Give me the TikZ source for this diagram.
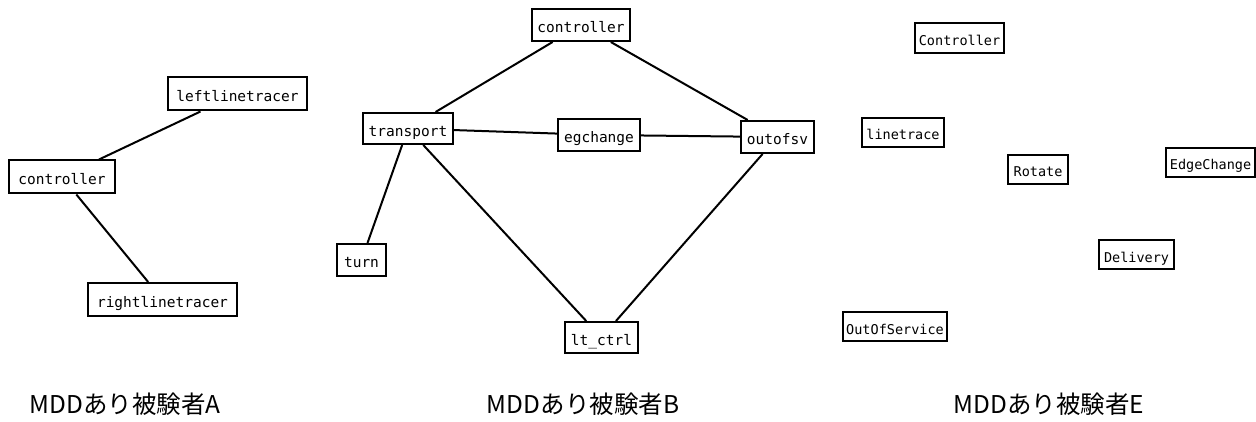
\documentclass[tikz,border=0pt]{standalone}
\usepackage{fontspec}
\setmonofont{DejaVu Sans Mono}
\newfontfamily\jpfont{Noto Sans CJK JP}
\tikzset{
  cls/.style={draw, line width=2pt, inner sep=0pt, minimum height=33,
    text height=16, text depth=0,
    font=\ttfamily\fontsize{14.5}{16}\selectfont},
  clsE/.style={cls, minimum height=29, text height=15,
    font=\ttfamily\fontsize{13.5}{15}\selectfont},
  link/.style={line width=2pt},
  caption/.style={font=\jpfont\fontsize{24.5}{28}\selectfont}
}
\begin{document}
\begin{tikzpicture}[x=1pt, y=-1pt]
        \useasboundingbox (0,0) rectangle (1256,422);
        \node [cls, minimum width=139] (leftlt) at (237.5,94) {leftlinetracer};
        \node [cls, minimum width=106] (ctrlA) at (62,177) {controller};
        \node [cls, minimum width=149] (rightlt) at (162.5,299.5) {rightlinetracer};
        \draw [link] (leftlt) -- (ctrlA);
        \draw [link] (ctrlA) -- (rightlt);

        \node [cls, minimum width=98, minimum height=32] (ctrlB) at (581,25) {controller};
        \node [cls, minimum width=90, minimum height=31] (transport) at (408,128.5) {transport};
        \node [cls, minimum width=82, minimum height=32] (egchange) at (599,135) {egchange};
        \node [cls, minimum width=73, minimum height=32] (outofsv) at (777.5,137) {outofsv};
        \node [cls, minimum width=49, minimum height=32] (turn) at (361.5,260) {turn};
        \node [cls, minimum width=73, minimum height=31] (ltctrl) at (601.5,337.5) {lt\_ctrl};
        \draw [link] (ctrlB) -- (transport);
        \draw [link] (ctrlB) -- (outofsv);
        \draw [link] (transport) -- (egchange);
        \draw [link] (egchange) -- (outofsv);
        \draw [link] (transport) -- (turn);
        \draw [link] (transport) -- (ltctrl);
        \draw [link] (outofsv) -- (ltctrl);

        \node [clsE, minimum width=89, minimum height=30] (ctrlE) at (959.5,38) {Controller};
        \node [clsE, minimum width=82] (linetrace) at (903,132.5) {linetrace};
        \node [clsE, minimum width=60] (rotate) at (1038,169.5) {Rotate};
        \node [clsE, minimum width=89] (edgechange) at (1210.5,162.5) {EdgeChange};
        \node [clsE, minimum width=75] (delivery) at (1136.5,254.5) {Delivery};
        \node [clsE, minimum width=104] (outofservice) at (895,326.5) {OutOfService};

        \node [caption] (capA) at (125,404) {MDDあり被験者A};
        \node [caption] (capB) at (583,404) {MDDあり被験者B};
        \node [caption] (capE) at (1049,404) {MDDあり被験者E};
      \end{tikzpicture}
\end{document}
